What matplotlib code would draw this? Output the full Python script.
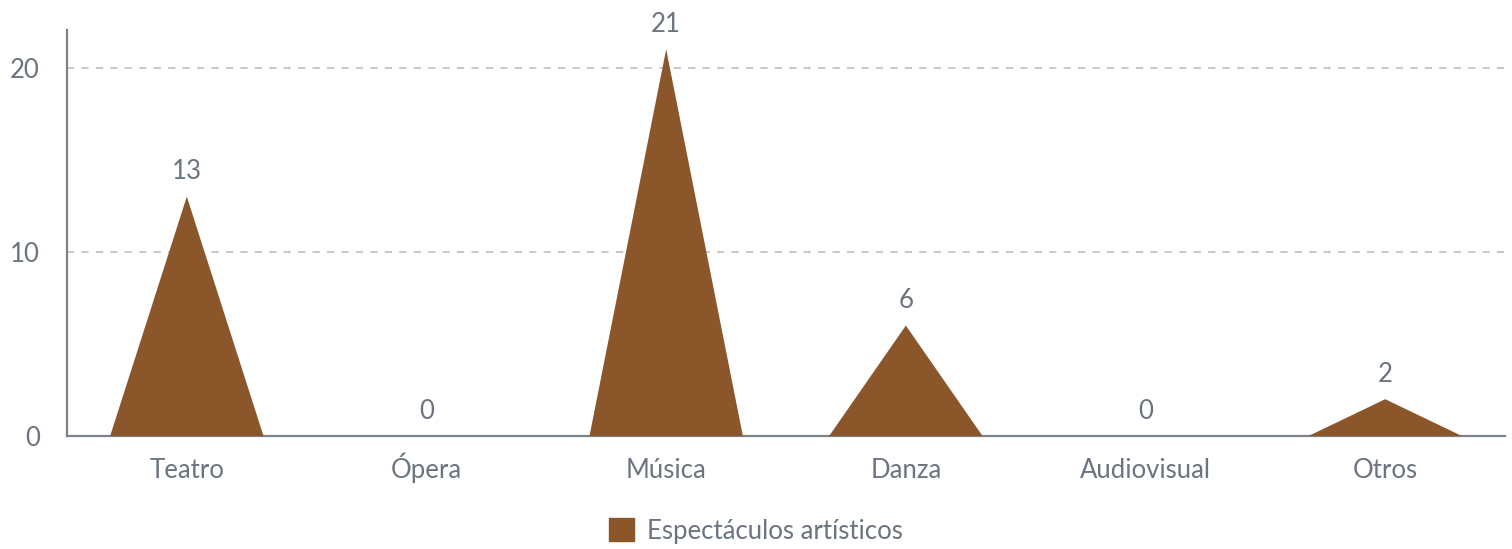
import matplotlib.pyplot as plt
from matplotlib.patches import Patch

categories = ["Teatro", "Ópera", "Música", "Danza", "Audiovisual", "Otros"]
values = [13, 0, 21, 6, 0, 2]
series_name = "Espectáculos artísticos"

brown = "#8b572a"
text_grey = "#6b7480"
axis_grey = "#7a838c"
fs = 18.5

plt.rcParams['font.family'] = ['Lato', 'DejaVu Sans']

fig = plt.figure(figsize=(15.12, 5.49), dpi=100)
ax = fig.add_axes([0.0443, 0.2058, 0.9511, 0.7396])

half = 0.32
for i, v in enumerate(values):
    if v > 0:
        ax.fill([i - half, i, i + half], [0, v, 0], color=brown, lw=0, zorder=3)
    ax.annotate(str(v), (i, v), xytext=(0, 9), textcoords="offset points",
                ha="center", va="bottom", fontsize=fs, color=text_grey)

ax.set_xlim(-0.5, len(categories) - 0.5)
ax.set_ylim(0, 22.05)
ax.set_xticks(range(len(categories)))
ax.set_xticklabels(categories)
ax.set_yticks([0, 10, 20])
ax.tick_params(length=0, labelsize=fs, labelcolor=text_grey)
ax.tick_params(axis="y", pad=19.5)
ax.tick_params(axis="x", pad=30)
for lab in ax.get_yticklabels():
    lab.set_horizontalalignment("right")
for lab in ax.get_xticklabels():
    lab.set_verticalalignment("baseline")

ax.grid(axis="y", ls=(0, (4, 4)), color="#c4c4c4", lw=1.3)
ax.set_axisbelow(True)
for s in ["top", "right"]:
    ax.spines[s].set_visible(False)
for s in ["left", "bottom"]:
    ax.spines[s].set_color(axis_grey)
    ax.spines[s].set_linewidth(1.6)

handle = Patch(facecolor=brown, edgecolor=brown)
fig.legend([handle], [series_name], loc="center", bbox_to_anchor=(0.5, 0.033),
           frameon=False, fontsize=fs, labelcolor=text_grey,
           handlelength=1.0, handleheight=1.0, handletextpad=0.5)

fig.savefig("out.png", dpi=100)
